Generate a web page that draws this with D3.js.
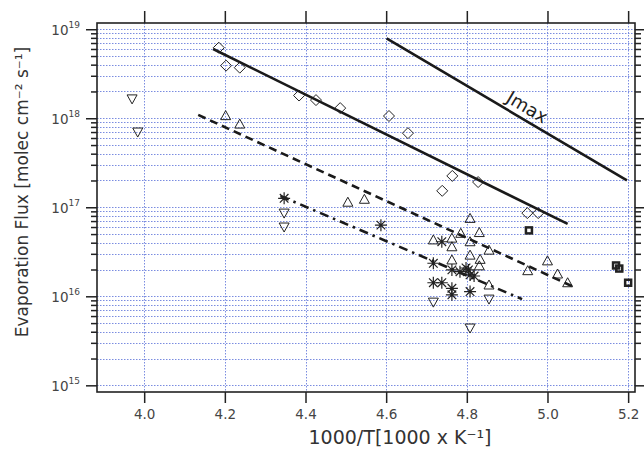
<!DOCTYPE html>
<html>
<head>
<meta charset="utf-8">
<script src="https://cdn.jsdelivr.net/npm/d3@7"></script>
<style>
  body { margin: 0; background: #fff; }
  text { font-family: "DejaVu Sans", sans-serif; }
</style>
</head>
<body>
<svg id="chart" width="644" height="456"></svg>
<script>
// values: t = 1000/T, f = flux
const diamonds = [
  { t: 4.185, f: 6.2e18 }, { t: 4.203, f: 3.9e18 }, { t: 4.237, f: 3.7e18 },
  { t: 4.384, f: 1.8e18 }, { t: 4.426, f: 1.6e18 }, { t: 4.486, f: 1.3e18 },
  { t: 4.607, f: 1.06e18 }, { t: 4.654, f: 6.8e17 }, { t: 4.764, f: 2.25e17 },
  { t: 4.739, f: 1.53e17 }, { t: 4.828, f: 1.92e17 }, { t: 4.950, f: 8.6e16 },
  { t: 4.977, f: 8.6e16 }
];
const trianglesUp = [
  { t: 4.202, f: 1.07e18 }, { t: 4.237, f: 8.6e17 }, { t: 4.505, f: 1.14e17 },
  { t: 4.546, f: 1.23e17 }, { t: 4.808, f: 7.5e16 }, { t: 4.717, f: 4.3e16 },
  { t: 4.763, f: 4.5e16 }, { t: 4.785, f: 5.1e16 }, { t: 4.831, f: 5.2e16 },
  { t: 4.808, f: 4.1e16 }, { t: 4.763, f: 3.6e16 }, { t: 4.855, f: 3.3e16 },
  { t: 4.763, f: 2.56e16 }, { t: 4.808, f: 2.9e16 }, { t: 4.833, f: 2.6e16 },
  { t: 4.831, f: 2.2e16 }, { t: 4.855, f: 1.34e16 }, { t: 4.951, f: 1.94e16 },
  { t: 5.000, f: 2.5e16 }, { t: 5.025, f: 1.78e16 }, { t: 5.050, f: 1.42e16 }
];
const trianglesDown = [
  { t: 3.970, f: 1.65e18 }, { t: 3.984, f: 7.0e17 }, { t: 4.347, f: 8.6e16 },
  { t: 4.347, f: 6.0e16 }, { t: 4.717, f: 8.6e15 }, { t: 4.855, f: 9.3e15 },
  { t: 4.808, f: 4.4e15 }
];
const asterisks = [
  { t: 4.347, f: 1.26e17 }, { t: 4.587, f: 6.3e16 }, { t: 4.738, f: 4.1e16 },
  { t: 4.717, f: 2.35e16 }, { t: 4.763, f: 1.98e16 }, { t: 4.783, f: 1.89e16 },
  { t: 4.804, f: 1.98e16 }, { t: 4.808, f: 1.74e16 }, { t: 4.798, f: 2.08e16 },
  { t: 4.818, f: 1.69e16 }, { t: 4.717, f: 1.42e16 }, { t: 4.738, f: 1.42e16 },
  { t: 4.763, f: 1.23e16 }, { t: 4.763, f: 1.04e16 }, { t: 4.808, f: 1.13e16 }
];
const squares = [
  { t: 4.954, f: 5.5e16 }, { t: 5.170, f: 2.22e16 }, { t: 5.178, f: 2.05e16 },
  { t: 5.200, f: 1.42e16 }
];

// fitted lines (end points)
const fitSolid = [{ t: 4.171, f: 6.0e18 }, { t: 5.050, f: 6.5e16 }];
const fitDashed = [{ t: 4.134, f: 1.09e18 }, { t: 5.061, f: 1.3e16 }];
const fitDashDot = [{ t: 4.338, f: 1.34e17 }, { t: 4.937, f: 9.3e15 }];
const jmaxLine = [{ t: 4.601, f: 7.9e18 }, { t: 5.197, f: 2.0e17 }];

const xTicks = [4.0, 4.2, 4.4, 4.6, 4.8, 5.0, 5.2];
const yDecades = [15, 16, 17, 18, 19];

const svg = d3.select('#chart');
const pL = 97, pR = 635, pT = 23, pB = 392;

const x = d3.scaleLinear().domain([3.883, 5.217]).range([pL, pR]);
const y = d3.scaleLog().domain([Math.pow(10, 14.925), Math.pow(10, 19.07)]).range([pB, pT]);

// all the 1..9 x 10^n values for minor ticks / grid
const yMinor = [];
yDecades.forEach(d => {
  for (let m = 1; m <= 9; m++) {
    const v = m * Math.pow(10, d);
    if (v <= y.domain()[1]) yMinor.push(v);
  }
});

// grid
const grid = svg.append('g')
  .attr('stroke', '#7a8ce0')
  .attr('stroke-width', 1)
  .attr('stroke-dasharray', '1.5,1.5');
grid.selectAll('.hg').data(yMinor).enter().append('line')
  .attr('x1', pL).attr('x2', pR)
  .attr('y1', d => Math.round(y(d)) + 0.5).attr('y2', d => Math.round(y(d)) + 0.5);
grid.selectAll('.vg').data(xTicks).enter().append('line')
  .attr('y1', pT).attr('y2', pB)
  .attr('x1', d => Math.round(x(d)) + 0.5).attr('x2', d => Math.round(x(d)) + 0.5);

// axes
const axisColor = '#222';
const bottomAxis = d3.axisBottom(x).tickValues(xTicks).tickFormat(d3.format('.1f')).tickSize(11).tickPadding(6);
const topAxis = d3.axisTop(x).tickValues(xTicks).tickFormat('').tickSize(12);
const isMajor = v => Math.abs(Math.log10(v) - Math.round(Math.log10(v))) < 1e-6;
const leftAxis = d3.axisLeft(y).tickValues(yMinor).tickFormat('').tickSize(6);
const rightAxis = d3.axisRight(y).tickValues(yMinor).tickFormat('').tickSize(6);

function styleAxis(g) {
  g.select('.domain').remove();
  g.selectAll('.tick line').attr('stroke', axisColor).attr('stroke-width', 1.5);
  g.selectAll('.tick text').attr('fill', '#444').style('font-size', '13.5px')
    .style('font-family', '"DejaVu Sans", sans-serif');
}

svg.append('g').attr('transform', `translate(0,${pB})`).call(bottomAxis).call(styleAxis);
svg.append('g').attr('transform', `translate(0,${pT})`).call(topAxis).call(styleAxis);
const gl = svg.append('g').attr('transform', `translate(${pL},0)`).call(leftAxis).call(styleAxis);
const gr = svg.append('g').attr('transform', `translate(${pR},0)`).call(rightAxis).call(styleAxis);
gl.selectAll('.tick line').filter(d => isMajor(d)).attr('x2', -11);
gr.selectAll('.tick line').filter(d => isMajor(d)).attr('x2', 11);

// y tick labels 10^n
const yLab = svg.append('g');
yDecades.forEach(d => {
  const t = yLab.append('text')
    .attr('x', 80).attr('y', y(Math.pow(10, d)) + 6)
    .attr('text-anchor', 'end')
    .attr('fill', '#444')
    .style('font-size', '13.5px');
  t.append('tspan').text('10');
  t.append('tspan').attr('dy', -7).style('font-size', '9px').text(d);
});

// frame
svg.append('rect')
  .attr('x', pL).attr('y', pT)
  .attr('width', pR - pL).attr('height', pB - pT)
  .attr('fill', 'none').attr('stroke', axisColor).attr('stroke-width', 1.6);

// fits
const line = d3.line().x(d => x(d.t)).y(d => y(d.f));
const lineStyles = [
  { data: fitSolid, dash: null },
  { data: jmaxLine, dash: null },
  { data: fitDashed, dash: '8,5' },
  { data: fitDashDot, dash: '9,5,2.5,5' }
];
lineStyles.forEach(s => {
  svg.append('path')
    .datum(s.data)
    .attr('d', line)
    .attr('fill', 'none')
    .attr('stroke', '#1a1a1a')
    .attr('stroke-width', 2.6)
    .attr('stroke-dasharray', s.dash);
});

// Jmax label along the line
const jx1 = x(jmaxLine[0].t), jy1 = y(jmaxLine[0].f);
const jx2 = x(jmaxLine[1].t), jy2 = y(jmaxLine[1].f);
const ang = Math.atan2(jy2 - jy1, jx2 - jx1) * 180 / Math.PI;
const lx = 521, ly = jy1 + (lx - jx1) * (jy2 - jy1) / (jx2 - jx1);
svg.append('text')
  .attr('transform', `translate(${lx},${ly}) rotate(${ang})`)
  .attr('y', -6)
  .attr('text-anchor', 'middle')
  .attr('fill', '#222')
  .style('font-size', '18px')
  .text('Jmax');

// markers
const markers = svg.append('g').attr('fill', 'none').attr('stroke', '#222');

markers.selectAll('.dia').data(diamonds).enter().append('path')
  .attr('d', 'M0,-5.5L5.5,0L0,5.5L-5.5,0Z')
  .attr('transform', d => `translate(${x(d.t)},${y(d.f)})`)
  .attr('stroke-width', 1);

markers.selectAll('.tu').data(trianglesUp).enter().append('path')
  .attr('d', 'M0,-5L5,4L-5,4Z')
  .attr('transform', d => `translate(${x(d.t)},${y(d.f)})`)
  .attr('stroke-width', 1);

markers.selectAll('.td').data(trianglesDown).enter().append('path')
  .attr('d', 'M0,5L5,-4L-5,-4Z')
  .attr('transform', d => `translate(${x(d.t)},${y(d.f)})`)
  .attr('stroke-width', 1);

markers.selectAll('.ast').data(asterisks).enter().append('path')
  .attr('d', 'M-6,0L6,0M0,-6L0,6M-4.3,-4.3L4.3,4.3M-4.3,4.3L4.3,-4.3')
  .attr('transform', d => `translate(${x(d.t)},${y(d.f)})`)
  .attr('stroke-width', 1.2);

markers.selectAll('.sq').data(squares).enter().append('rect')
  .attr('x', d => x(d.t) - 3).attr('y', d => y(d.f) - 3)
  .attr('width', 6).attr('height', 6)
  .attr('stroke-width', 2.5);

// axis titles
svg.append('text')
  .attr('x', 400).attr('y', 444)
  .attr('text-anchor', 'middle')
  .attr('fill', '#333')
  .style('font-size', '19px')
  .text('1000/T[1000 x K⁻¹]');

svg.append('text')
  .attr('transform', 'translate(28,192) rotate(-90)')
  .attr('text-anchor', 'middle')
  .attr('fill', '#333')
  .style('font-size', '17px')
  .text('Evaporation Flux [molec cm⁻² s⁻¹]');
</script>
</body>
</html>
